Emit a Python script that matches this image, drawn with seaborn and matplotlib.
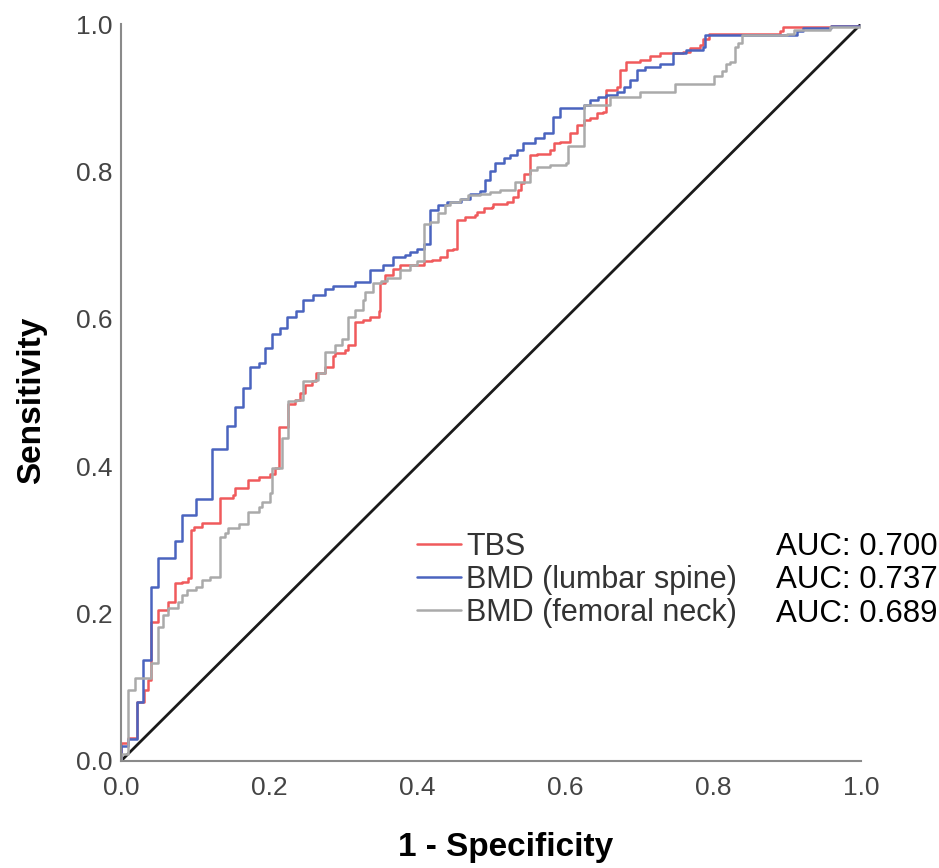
import pandas as pd
import matplotlib.pyplot as plt
import seaborn as sns

# ── ROC step points (1 - specificity, sensitivity) ──
tbs_fpr = [0.0, 0.0, 0.010, 0.021, 0.0315, 0.037, 0.041, 0.050, 0.064, 0.073, 0.082, 0.091,
           0.095, 0.098, 0.109, 0.134, 0.152, 0.154, 0.172, 0.186, 0.201, 0.208, 0.213, 0.226,
           0.235, 0.242, 0.249, 0.258, 0.264, 0.276, 0.287, 0.289, 0.303, 0.307, 0.316, 0.327,
           0.336, 0.348, 0.350, 0.357, 0.368, 0.377, 0.409, 0.420, 0.431, 0.440, 0.449, 0.454,
           0.465, 0.478, 0.481, 0.490, 0.501, 0.503, 0.521, 0.530, 0.537, 0.541, 0.544, 0.553,
           0.562, 0.580, 0.585, 0.593, 0.607, 0.616, 0.625, 0.634, 0.643, 0.652, 0.656, 0.670,
           0.674, 0.683, 0.701, 0.715, 0.728, 0.760, 0.769, 0.782, 0.787, 0.794, 0.891, 0.895,
           0.960, 1.0]
tbs_tpr = [0.0, 0.024, 0.031, 0.080, 0.096, 0.110, 0.189, 0.205, 0.216, 0.241, 0.243, 0.248,
           0.313, 0.318, 0.323, 0.357, 0.361, 0.370, 0.381, 0.386, 0.390, 0.397, 0.453, 0.485,
           0.490, 0.499, 0.510, 0.515, 0.526, 0.535, 0.549, 0.553, 0.558, 0.564, 0.596, 0.598,
           0.603, 0.610, 0.648, 0.659, 0.668, 0.673, 0.678, 0.680, 0.684, 0.693, 0.695, 0.734,
           0.738, 0.741, 0.745, 0.750, 0.752, 0.756, 0.759, 0.765, 0.775, 0.784, 0.797, 0.822,
           0.824, 0.829, 0.838, 0.840, 0.852, 0.863, 0.870, 0.872, 0.879, 0.881, 0.910, 0.915,
           0.938, 0.949, 0.951, 0.956, 0.961, 0.962, 0.967, 0.971, 0.980, 0.987, 0.990, 0.996,
           0.997, 1.0]

lumbar_fpr = [0.0, 0.0, 0.010, 0.021, 0.030, 0.0405, 0.050, 0.073, 0.082, 0.102, 0.1225, 0.143,
              0.154, 0.165, 0.174, 0.186, 0.195, 0.204, 0.215, 0.224, 0.237, 0.246, 0.260, 0.275,
              0.287, 0.316, 0.336, 0.354, 0.368, 0.384, 0.391, 0.400, 0.409, 0.418, 0.429, 0.440,
              0.460, 0.472, 0.485, 0.492, 0.499, 0.505, 0.517, 0.526, 0.535, 0.543, 0.560, 0.571,
              0.584, 0.593, 0.625, 0.634, 0.645, 0.656, 0.670, 0.680, 0.688, 0.697, 0.708, 0.728,
              0.746, 0.764, 0.787, 0.789, 0.913, 0.922, 0.960, 1.0]
lumbar_tpr = [0.0, 0.020, 0.030, 0.080, 0.137, 0.236, 0.276, 0.299, 0.334, 0.356, 0.424, 0.454,
              0.481, 0.506, 0.535, 0.540, 0.560, 0.580, 0.587, 0.602, 0.610, 0.626, 0.632, 0.640,
              0.645, 0.650, 0.666, 0.673, 0.684, 0.687, 0.691, 0.695, 0.702, 0.748, 0.754, 0.759,
              0.763, 0.770, 0.774, 0.788, 0.800, 0.811, 0.818, 0.822, 0.829, 0.838, 0.845, 0.852,
              0.874, 0.886, 0.890, 0.897, 0.901, 0.904, 0.908, 0.915, 0.924, 0.938, 0.942, 0.946,
              0.960, 0.965, 0.969, 0.985, 0.990, 0.995, 0.997, 1.0]

femoral_fpr = [0.0, 0.0, 0.010, 0.019, 0.041, 0.050, 0.057, 0.064, 0.077, 0.082, 0.089, 0.102,
               0.109, 0.120, 0.134, 0.141, 0.145, 0.160, 0.172, 0.186, 0.190, 0.201, 0.204, 0.217,
               0.226, 0.237, 0.246, 0.262, 0.266, 0.276, 0.289, 0.298, 0.307, 0.316, 0.327, 0.330,
               0.341, 0.352, 0.359, 0.377, 0.391, 0.400, 0.409, 0.418, 0.429, 0.438, 0.445, 0.458,
               0.469, 0.485, 0.499, 0.512, 0.532, 0.553, 0.562, 0.580, 0.602, 0.604, 0.625, 0.661,
               0.701, 0.749, 0.801, 0.812, 0.818, 0.823, 0.830, 0.834, 0.839, 0.900, 0.910, 0.958,
               1.0]
femoral_tpr = [0.0, 0.010, 0.097, 0.112, 0.133, 0.182, 0.198, 0.207, 0.216, 0.225, 0.232, 0.236,
               0.246, 0.250, 0.304, 0.309, 0.316, 0.322, 0.338, 0.345, 0.352, 0.363, 0.397, 0.438,
               0.488, 0.490, 0.515, 0.517, 0.526, 0.555, 0.564, 0.573, 0.603, 0.612, 0.626, 0.637,
               0.648, 0.651, 0.655, 0.666, 0.673, 0.678, 0.729, 0.732, 0.743, 0.754, 0.759, 0.763,
               0.768, 0.770, 0.772, 0.775, 0.786, 0.802, 0.806, 0.809, 0.811, 0.834, 0.890, 0.901,
               0.908, 0.919, 0.930, 0.936, 0.946, 0.949, 0.969, 0.974, 0.985, 0.987, 0.992, 0.996,
               1.0]

labels = ['TBS', 'BMD (lumbar spine)', 'BMD (femoral neck)']
auc_labels = ['AUC: 0.700', 'AUC: 0.737', 'AUC: 0.689']
colors = ['#f05a5c', '#4a64bf', '#aaaaaa']
ticks = [0.0, 0.2, 0.4, 0.6, 0.8, 1.0]

curves = [(tbs_fpr, tbs_tpr), (lumbar_fpr, lumbar_tpr), (femoral_fpr, femoral_tpr)]

# ── Plot ──────────────────────────────────────────────────────────────
sns.set_style('white')
plt.rcParams['font.family'] = ['Liberation Sans', 'DejaVu Sans']

fig = plt.figure(figsize=(9.39, 8.68), dpi=100)
ax = fig.add_axes([121 / 939, 1 - 761 / 868, 740 / 939, 737 / 868])

# reference diagonal
sns.lineplot(x=[0, 1], y=[0, 1], color='#1a1a1a', lw=2.0, ax=ax, legend=False)

for (fpr, tpr), lab, col in zip(curves, labels, colors):
    df = pd.DataFrame({'fpr': fpr, 'tpr': tpr})
    sns.lineplot(data=df, x='fpr', y='tpr', estimator=None, sort=False,
                 drawstyle='steps-post', color=col, lw=1.8, label=lab, ax=ax)

ax.set_xlim(0, 1)
ax.set_ylim(0, 1)
ax.set_xticks(ticks)
ax.set_yticks(ticks)
ax.set_xticklabels([f'{t:.1f}' for t in ticks])
ax.set_yticklabels([f'{t:.1f}' for t in ticks])
ax.tick_params(axis='both', length=0, labelsize=19, labelcolor='#444444')
ax.tick_params(axis='x', pad=11)
ax.tick_params(axis='y', pad=6)

sns.despine(ax=ax)
for side in ['left', 'bottom']:
    ax.spines[side].set_color('#8a8a8a')
    ax.spines[side].set_linewidth(1.5)

ax.set_xlabel('1 - Specificity', fontsize=24, fontweight='bold', color='black')
ax.set_ylabel('Sensitivity', fontsize=24, fontweight='bold', color='black')
ax.xaxis.set_label_coords(0.52, -0.097)
ax.yaxis.set_label_coords(-0.1, 0.49)

leg = ax.legend(loc='upper left', bbox_to_anchor=(0.40, 0.311), frameon=False,
                fontsize=22, handlelength=1.45, handletextpad=0.15, labelspacing=0.1,
                borderpad=0, borderaxespad=0)
for t in leg.get_texts():
    t.set_color('#333333')

row_y = [0.290, 0.245, 0.199]
for ytxt, auc in zip(row_y, auc_labels):
    ax.text(0.885, ytxt, auc, fontsize=22.5, color='black', va='center', ha='left',
            clip_on=False)

fig.savefig('out.png', dpi=100)
